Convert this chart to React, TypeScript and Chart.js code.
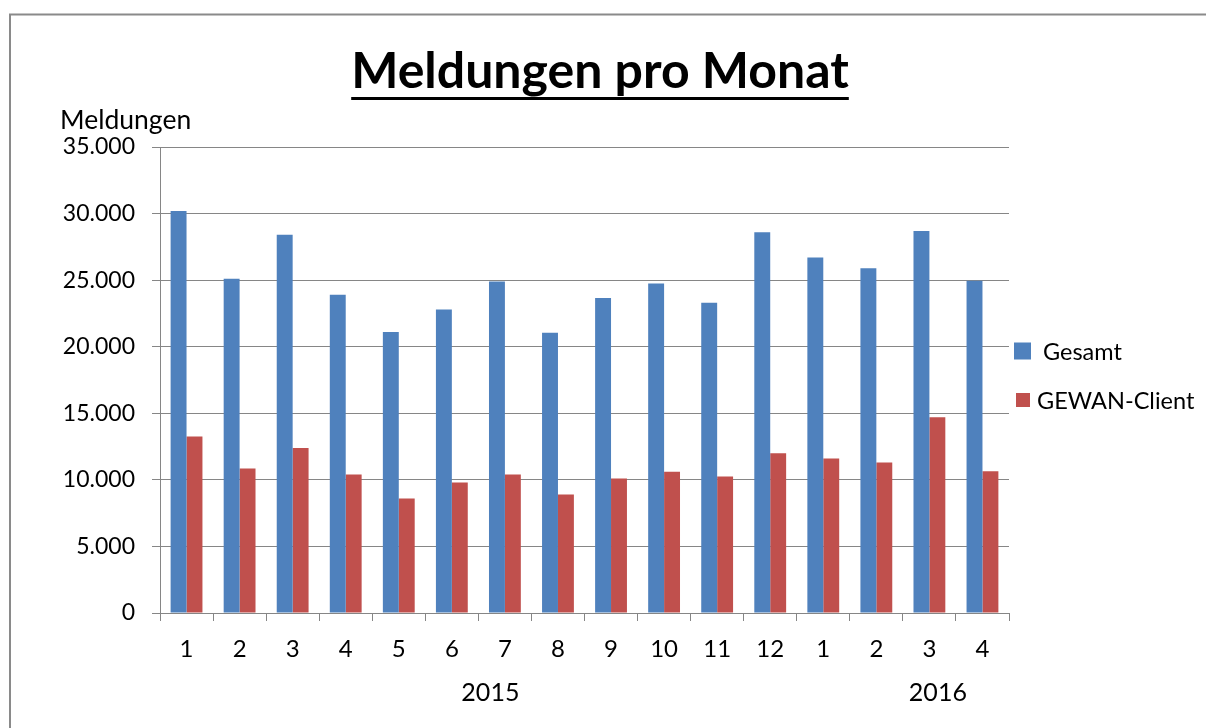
import React, { useEffect, useRef } from "react";
import { Chart, registerables } from "chart.js";

Chart.register(...registerables);

const categories = ["1", "2", "3", "4", "5", "6", "7", "8", "9", "10", "11", "12", "1", "2", "3", "4"];
const gesamt = [30200, 25100, 28400, 23900, 21100, 22800, 24900, 21050, 23650, 24750, 23300, 28600, 26700, 25900, 28700, 24950];
const gewanClient = [13250, 10850, 12400, 10400, 8600, 9800, 10400, 8900, 10100, 10600, 10250, 12000, 11600, 11300, 14700, 10650];
const seriesNames = ["Gesamt", "GEWAN-Client"];
const seriesColors = ["#4F81BD", "#C0504D"];
const yearLabels = ["2015", "2016"];
const yearGroupSizes = [12, 4];
const yMax = 35000;
const yStep = 5000;
const titleText = "Meldungen pro Monat";
const yAxisTitle = "Meldungen";

const FONT = "Lato, 'Open Sans', sans-serif";
const GRID = "#868686";

function fmt(v: number): string {
  return String(Math.round(v)).replace(/\B(?=(\d{3})+(?!\d))/g, ".");
}

const decorPlugin = {
  id: "decor",
  beforeDraw(chart: any) {
    const ctx = chart.ctx;
    ctx.save();
    ctx.strokeStyle = "#8a8a8a";
    ctx.lineWidth = 2;
    ctx.strokeRect(10, 14.5, chart.width + 20, chart.height + 20);
    ctx.restore();
  },
  afterDraw(chart: any) {
    const ctx = chart.ctx;
    const area = chart.chartArea;
    ctx.save();
    // title
    ctx.fillStyle = "#000";
    ctx.font = `bold 50px ${FONT}`;
    ctx.textAlign = "center";
    ctx.textBaseline = "alphabetic";
    const cx = 600;
    ctx.fillText(titleText, cx, 88);
    const w = ctx.measureText(titleText).width;
    ctx.fillRect(cx - w / 2, 97, w, 3);
    // y axis title
    ctx.font = `26.5px ${FONT}`;
    ctx.textAlign = "left";
    ctx.fillText(yAxisTitle, 60, 129);
    // year labels
    const xs = chart.scales.x;
    const nudges = [12, 35];
    let start = 0;
    ctx.font = `25px ${FONT}`;
    ctx.textAlign = "center";
    ctx.textBaseline = "middle";
    yearLabels.forEach((lab, i) => {
      const mid = start + (yearGroupSizes[i] - 1) / 2;
      ctx.fillText(lab, xs.getPixelForValue(mid) + nudges[i], 693);
      start += yearGroupSizes[i];
    });
    // legend
    const lx = area.right + 5;
    const rows = [351, 400];
    ctx.font = `23.5px ${FONT}`;
    chart.data.datasets.forEach((ds: any, i: number) => {
      const y = rows[i];
      const s = i === 0 ? 17 : 14;
      ctx.fillStyle = ds.backgroundColor;
      ctx.fillRect(lx + (i === 0 ? 0 : 2), y - s / 2, s, s);
      ctx.fillStyle = "#000";
      ctx.textAlign = "left";
      ctx.textBaseline = "middle";
      ctx.fillText(ds.label, lx + (i === 0 ? 29 : 23), y + 1);
    });
    ctx.restore();
  },
};

export default function App() {
  const ref = useRef<HTMLCanvasElement | null>(null);
  useEffect(() => {
    document.body.style.margin = "0";
    const canvas = ref.current!;
    const chart = new Chart(canvas, {
      type: "bar",
      data: {
        labels: categories,
        datasets: [
          { label: seriesNames[0], data: gesamt, backgroundColor: seriesColors[0] },
          { label: seriesNames[1], data: gewanClient, backgroundColor: seriesColors[1] },
        ],
      },
      options: {
        responsive: false,
        animation: false,
        devicePixelRatio: 1,
        layout: { padding: { top: 147, right: 197, left: 0, bottom: 0 } },
        datasets: { bar: { categoryPercentage: 0.6, barPercentage: 1.0 } },
        plugins: {
          legend: { display: false },
          title: { display: false },
          tooltip: { enabled: false },
        },
        scales: {
          x: {
            grid: {
              offset: true,
              drawOnChartArea: false,
              drawTicks: true,
              tickLength: 8,
              color: GRID,
              lineWidth: 1,
            },
            border: { color: GRID, width: 1 },
            ticks: { color: "#000", font: { family: FONT, size: 24 }, padding: 14, maxRotation: 0 },
            afterFit(scale: any) {
              scale.height = 115;
            },
          },
          y: {
            min: 0,
            max: yMax,
            grid: { color: GRID, lineWidth: 1, tickLength: 8 },
            border: { color: GRID, width: 1 },
            ticks: {
              stepSize: yStep,
              color: "#000",
              padding: 17,
              font: { family: FONT, size: 23 },
              callback: (v: any) => fmt(Number(v)),
            },
            afterFit(scale: any) {
              scale.width = 160;
            },
          },
        },
      },
      plugins: [decorPlugin],
    });
    return () => chart.destroy();
  }, []);
  return (
    <div style={{ width: 1206, height: 728, background: "#fff" }}>
      <canvas ref={ref} width={1206} height={728} />
    </div>
  );
}
